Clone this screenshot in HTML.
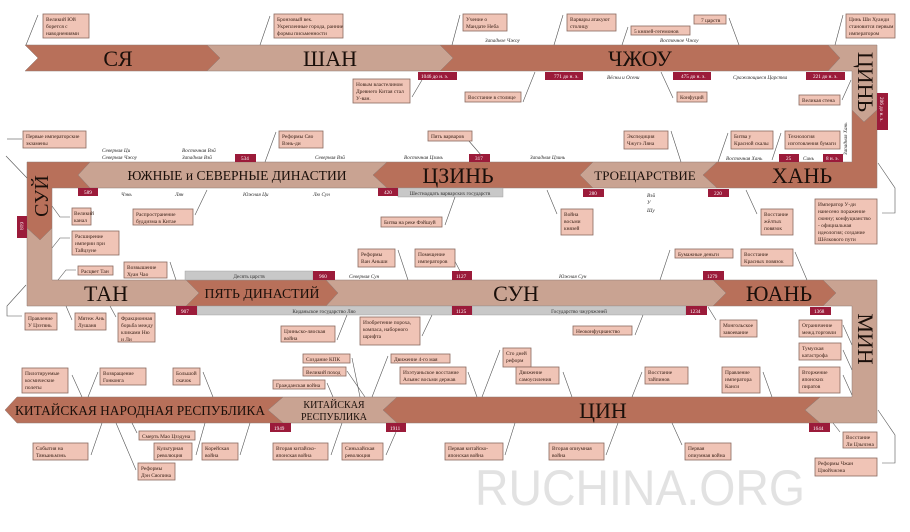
<!DOCTYPE html>
<html><head><meta charset="utf-8"><style>
html,body{margin:0;padding:0;background:#fff}
svg{display:block}
.d{fill:#b8705a;stroke:#8e7a74;stroke-width:.5}
.l{fill:#c9a392;stroke:#8e7a74;stroke-width:.5}
.t{font-family:"Liberation Serif",serif;fill:#1a0f0a}
.b{fill:#f0c4b6;stroke:#8a6a60;stroke-width:.8}
.e{font-family:"Liberation Serif",serif;font-size:5.4px;fill:#3a2218}
.i{font-family:"Liberation Serif",serif;font-size:5.2px;font-style:italic;fill:#2a2a2a}
.dt{fill:#9b1b3a}
.dw{font-family:"Liberation Serif",serif;font-size:5.2px;fill:#fff}
.g{fill:#c8c8c8;stroke:#999;stroke-width:.4}
.gt{font-family:"Liberation Serif",serif;font-size:5.2px;fill:#333}
line,polyline{stroke:#555;stroke-width:.6;fill:none}
</style></head><body>
<svg width="910" height="532" viewBox="0 0 910 532" xmlns="http://www.w3.org/2000/svg">
<text x="475" y="505" font-family="Liberation Sans,sans-serif" font-size="50" fill="#e2e2e2" textLength="330" lengthAdjust="spacingAndGlyphs">RUCHINA.ORG</text>

<polygon class="d" points="25,45 207,45 220,58 207,71 25,71 38,58"/>
<polygon class="l" points="207,45 440,45 453,58 440,71 207,71 220,58"/>
<polygon class="d" points="440,45 828,45 840,58 828,71 440,71 453,58"/>
<polygon class="l" points="828,45 877,45 877,110 864,122 852,110 852,71 828,71 840,58"/>
<polygon class="d" points="852,110 864,122 877,110 877,188 717,188 703,175 717,162 852,162"/>
<polygon class="l" points="717,162 703,175 717,188 593,188 580,175 593,162"/>
<polygon class="d" points="593,162 580,175 593,188 387,188 373,175 387,162"/>
<polygon class="l" points="387,162 373,175 387,188 90,188 78,175 90,162"/>
<polygon class="d" points="90,162 78,175 90,188 52,188 52,228 40,240 27,228 27,162"/>
<polygon class="l" points="27,228 40,240 52,228 52,280 186,280 199,293 186,306 27,306"/>
<polygon class="d" points="186,280 326,280 338,293 326,306 186,306 199,293"/>
<polygon class="l" points="326,280 713,280 726,293 713,306 326,306 338,293"/>
<polygon class="d" points="713,280 823,280 836,293 823,306 713,306 726,293"/>
<polygon class="l" points="823,280 877,280 877,423 820,423 805,410 820,397 852,397 852,306 823,306 836,293"/>
<polygon class="d" points="820,397 805,410 820,423 397,423 383,410 397,397"/>
<polygon class="l" points="397,397 383,410 397,423 283,423 268,410 283,397"/>
<polygon class="d" points="283,397 268,410 283,423 17,423 5,410 17,397"/>

<g class="t" text-anchor="middle">
<text x="118" y="66" font-size="22">СЯ</text>
<text x="330" y="66" font-size="22">ШАН</text>
<text x="640" y="66" font-size="22">ЧЖОУ</text>
<text transform="translate(858,82) rotate(90)" font-size="22">ЦИНЬ</text>
<text x="237" y="180" font-size="14" textLength="219" lengthAdjust="spacingAndGlyphs">ЮЖНЫЕ и СЕВЕРНЫЕ ДИНАСТИИ</text>
<text x="458" y="183" font-size="22">ЦЗИНЬ</text>
<text x="645" y="180" font-size="13">ТРОЕЦАРСТВИЕ</text>
<text x="802" y="183" font-size="22">ХАНЬ</text>
<text transform="translate(48,196) rotate(-90)" font-size="20">СУЙ</text>
<text x="106" y="301" font-size="22">ТАН</text>
<text x="262" y="298" font-size="14" textLength="115" lengthAdjust="spacingAndGlyphs">ПЯТЬ ДИНАСТИЙ</text>
<text x="516" y="301" font-size="22">СУН</text>
<text x="779" y="301" font-size="22">ЮАНЬ</text>
<text transform="translate(858,339) rotate(90)" font-size="22">МИН</text>
<text x="140" y="415" font-size="14" textLength="250" lengthAdjust="spacingAndGlyphs">КИТАЙСКАЯ НАРОДНАЯ РЕСПУБЛИКА</text>
<text x="334" y="408" font-size="10">КИТАЙСКАЯ</text>
<text x="334" y="420" font-size="10">РЕСПУБЛИКА</text>
<text x="603" y="418" font-size="22">ЦИН</text>
</g>

<rect class="g" x="185" y="271" width="128" height="9"/><text class="gt" x="249" y="278" text-anchor="middle">Десять царств</text>
<rect class="g" x="197" y="306" width="255" height="9"/><text class="gt" x="324" y="313" text-anchor="middle">Киданьское государство Ляо</text>
<rect class="g" x="472" y="306" width="214" height="9"/><text class="gt" x="579" y="313" text-anchor="middle">Государство чжурчжэней</text>
<rect class="g" x="398" y="188" width="105" height="9"/><text class="gt" x="450" y="195" text-anchor="middle">Шестнадцать варварских государств</text>

<g>
<rect class="dt" x="418" y="72" width="39" height="8"/><text class="dw" x="421" y="78">1046 до н. э.</text>
<rect class="dt" x="545" y="72" width="38" height="8"/><text class="dw" x="554" y="78">771 до н. э.</text>
<rect class="dt" x="673" y="72" width="38" height="8"/><text class="dw" x="681" y="78">475 до н. э.</text>
<rect class="dt" x="806" y="72" width="39" height="8"/><text class="dw" x="813" y="78">221 до н. э.</text>
<rect class="dt" x="877" y="93" width="11" height="37"/><text class="dw" transform="translate(880,97) rotate(90)">206 до н. э.</text>
<rect class="dt" x="235" y="154" width="21" height="8"/><text class="dw" x="241" y="160">534</text>
<rect class="dt" x="469" y="154" width="21" height="8"/><text class="dw" x="475" y="160">317</text>
<rect class="dt" x="779" y="154" width="20" height="8"/><text class="dw" x="786" y="160">25</text>
<rect class="dt" x="823" y="154" width="20" height="8"/><text class="dw" x="826" y="160">8 н. э.</text>
<rect class="dt" x="78" y="188" width="20" height="8"/><text class="dw" x="84" y="194">589</text>
<rect class="dt" x="378" y="188" width="20" height="8"/><text class="dw" x="384" y="194">420</text>
<rect class="dt" x="583" y="189" width="21" height="8"/><text class="dw" x="589" y="195">280</text>
<rect class="dt" x="708" y="189" width="21" height="8"/><text class="dw" x="714" y="195">220</text>
<rect class="dt" x="17" y="216" width="10" height="22"/><text class="dw" transform="translate(20,222) rotate(90)">618</text>
<rect class="dt" x="313" y="271" width="22" height="9"/><text class="dw" x="319" y="278">960</text>
<rect class="dt" x="452" y="271" width="20" height="9"/><text class="dw" x="456" y="278">1127</text>
<rect class="dt" x="703" y="271" width="21" height="9"/><text class="dw" x="707" y="278">1279</text>
<rect class="dt" x="176" y="306" width="21" height="9"/><text class="dw" x="181" y="313">907</text>
<rect class="dt" x="452" y="306" width="20" height="9"/><text class="dw" x="456" y="313">1125</text>
<rect class="dt" x="686" y="306" width="21" height="9"/><text class="dw" x="690" y="313">1234</text>
<rect class="dt" x="810" y="307" width="21" height="8"/><text class="dw" x="814" y="313">1368</text>
<rect class="dt" x="270" y="423" width="21" height="9"/><text class="dw" x="274" y="430">1949</text>
<rect class="dt" x="386" y="423" width="20" height="9"/><text class="dw" x="390" y="430">1911</text>
<rect class="dt" x="809" y="423" width="21" height="9"/><text class="dw" x="813" y="430">1644</text>
</g>

<g class="i">
<text x="485" y="42">Западное Чжоу</text>
<text x="660" y="42">Восточное Чжоу</text>
<text x="607" y="79">Вёсны и Осени</text>
<text x="733" y="79">Сражающиеся Царства</text>
<text transform="translate(847,155) rotate(-90)">Западная Хань</text>
<text x="102" y="152">Северная Ци</text><text x="102" y="159">Северная Чжоу</text>
<text x="182" y="152">Восточная Вэй</text><text x="182" y="159">Западная Вэй</text>
<text x="315" y="159">Северная Вэй</text>
<text x="404" y="159">Восточная Цзинь</text>
<text x="530" y="159">Западная Цзинь</text>
<text x="726" y="160">Восточная Хань</text>
<text x="803" y="160">Синь</text>
<text x="121" y="196">Чэнь</text>
<text x="175" y="196">Лян</text>
<text x="243" y="196">Южная Ци</text>
<text x="313" y="196">Лю Сун</text>
<text x="647" y="197">Вэй</text><text x="647" y="204">У</text><text x="647" y="212">Шу</text>
<text x="349" y="278">Северная Сун</text>
<text x="559" y="278">Южная Сун</text>
</g>

<g>
<line x1="26" y1="45" x2="38" y2="15"/>
<line x1="260" y1="45" x2="270" y2="16"/>
<line x1="452" y1="45" x2="460" y2="15"/>
<line x1="554" y1="45" x2="563" y2="15"/>
<line x1="622" y1="45" x2="628" y2="27"/>
<line x1="739" y1="45" x2="729" y2="18"/>
<line x1="835" y1="45" x2="843" y2="15"/>
<line x1="412" y1="97" x2="422" y2="80"/>
<line x1="523" y1="102" x2="535" y2="72"/>
<line x1="673" y1="98" x2="661" y2="72"/>
<line x1="842" y1="100" x2="851" y2="80"/>
<polyline points="22,139 7,139"/><line x1="6" y1="156" x2="27" y2="178"/>
<line x1="265" y1="162" x2="276" y2="132"/>
<line x1="462" y1="133" x2="481" y2="155"/>
<line x1="671" y1="131" x2="681" y2="162"/>
<line x1="728" y1="133" x2="718" y2="162"/>
<line x1="781" y1="133" x2="772" y2="160"/>
<polyline points="878,163 895,188 895,213 882,213"/>
<polyline points="52,206 60,217 70,217"/>
<line x1="195" y1="215" x2="207" y2="190"/>
<line x1="445" y1="225" x2="455" y2="197"/>
<line x1="557" y1="214" x2="547" y2="190"/>
<line x1="757" y1="214" x2="746" y2="190"/>
<polyline points="52,248 60,238 70,238"/>
<polyline points="58,280 66,270 76,270"/>
<line x1="170" y1="262" x2="176" y2="280"/>
<line x1="398" y1="250" x2="408" y2="280"/>
<line x1="450" y1="252" x2="460" y2="271"/>
<line x1="670" y1="250" x2="660" y2="280"/>
<line x1="795" y1="252" x2="807" y2="280"/>
<polyline points="26,285 7,306 7,316 22,316"/>
<line x1="66" y1="306" x2="72" y2="320"/>
<line x1="110" y1="306" x2="116" y2="317"/>
<line x1="337" y1="340" x2="347" y2="315"/>
<line x1="422" y1="336" x2="432" y2="315"/>
<line x1="635" y1="335" x2="643" y2="315"/>
<line x1="716" y1="320" x2="708" y2="307"/>
<line x1="843" y1="325" x2="852" y2="345"/>
<line x1="843" y1="350" x2="852" y2="370"/>
<line x1="843" y1="375" x2="852" y2="395"/>
<line x1="72" y1="375" x2="82" y2="397"/>
<line x1="98" y1="372" x2="88" y2="397"/>
<line x1="203" y1="372" x2="213" y2="397"/>
<line x1="352" y1="358" x2="360" y2="397"/>
<line x1="347" y1="371" x2="365" y2="397"/>
<line x1="327" y1="383" x2="333" y2="397"/>
<line x1="388" y1="356" x2="372" y2="397"/>
<line x1="468" y1="372" x2="477" y2="397"/>
<line x1="500" y1="350" x2="482" y2="397"/>
<line x1="563" y1="372" x2="572" y2="397"/>
<line x1="642" y1="372" x2="632" y2="397"/>
<line x1="763" y1="372" x2="772" y2="397"/>
<line x1="91" y1="455" x2="102" y2="423"/>
<line x1="137" y1="433" x2="132" y2="423"/>
<line x1="136" y1="470" x2="116" y2="423"/>
<line x1="196" y1="455" x2="205" y2="423"/>
<line x1="240" y1="455" x2="250" y2="423"/>
<line x1="331" y1="455" x2="342" y2="423"/>
<line x1="386" y1="455" x2="396" y2="432"/>
<line x1="505" y1="455" x2="515" y2="423"/>
<line x1="606" y1="455" x2="618" y2="423"/>
<line x1="682" y1="445" x2="672" y2="423"/>
<line x1="840" y1="432" x2="833" y2="423"/>
<polyline points="882,463 895,463 895,435 878,410"/>
</g>

<g>
<rect class="b" x="43" y="14" width="46" height="24"/><text class="e"><tspan x="46" y="21">Великий Юй</tspan><tspan x="46" y="28">борется с</tspan><tspan x="46" y="35">наводнениями</tspan></text>
<rect class="b" x="274" y="14" width="69" height="24"/><text class="e"><tspan x="277" y="21">Бронзовый век.</tspan><tspan x="277" y="28">Укрепленные города, ранние</tspan><tspan x="277" y="35">формы письменности</tspan></text>
<rect class="b" x="463" y="14" width="44" height="17"/><text class="e"><tspan x="466" y="21">Учение о</tspan><tspan x="466" y="28">Мандате Неба</tspan></text>
<rect class="b" x="567" y="14" width="49" height="17"/><text class="e"><tspan x="570" y="21">Варвары атакуют</tspan><tspan x="570" y="28">столицу</tspan></text>
<rect class="b" x="631" y="26" width="59" height="9"/><text class="e" x="634" y="33">5 князей-гегемонов</text>
<rect class="b" x="694" y="15" width="32" height="9"/><text class="e" x="701" y="22">7 царств</text>
<rect class="b" x="846" y="14" width="49" height="24"/><text class="e"><tspan x="849" y="21">Цинь Ши Хуанди</tspan><tspan x="849" y="28">становится первым</tspan><tspan x="849" y="35">императором</tspan></text>
<rect class="b" x="353" y="79" width="57" height="24"/><text class="e"><tspan x="356" y="86">Новым властелином</tspan><tspan x="356" y="93">Древнего Китая стал</tspan><tspan x="356" y="100">У-ван.</tspan></text>
<rect class="b" x="465" y="92" width="56" height="10"/><text class="e" x="468" y="99">Восстание в столице</text>
<rect class="b" x="677" y="92" width="30" height="10"/><text class="e" x="680" y="99">Конфуций</text>
<rect class="b" x="799" y="95" width="41" height="10"/><text class="e" x="802" y="102">Великая стена</text>
<rect class="b" x="23" y="131" width="63" height="17"/><text class="e"><tspan x="26" y="138">Первые императорские</tspan><tspan x="26" y="145">экзамены</tspan></text>
<rect class="b" x="279" y="131" width="44" height="17"/><text class="e"><tspan x="282" y="138">Реформы  Сяо</tspan><tspan x="282" y="145">Вэнь-ди</tspan></text>
<rect class="b" x="428" y="131" width="44" height="10"/><text class="e" x="431" y="138">Пять варваров</text>
<rect class="b" x="624" y="131" width="44" height="18"/><text class="e"><tspan x="627" y="138">Экспедиция</tspan><tspan x="627" y="145">Чжугэ Ляна</tspan></text>
<rect class="b" x="731" y="131" width="42" height="18"/><text class="e"><tspan x="734" y="138">Битва у</tspan><tspan x="734" y="145">Красной скалы</tspan></text>
<rect class="b" x="785" y="131" width="55" height="18"/><text class="e"><tspan x="788" y="138">Технология</tspan><tspan x="788" y="145">изготовления бумаги</tspan></text>
<rect class="b" x="72" y="208" width="19" height="17"/><text class="e"><tspan x="74" y="215">Великий</tspan><tspan x="74" y="222">канал</tspan></text>
<rect class="b" x="133" y="209" width="60" height="16"/><text class="e"><tspan x="136" y="216">Распространение</tspan><tspan x="136" y="223">буддизма в Китае</tspan></text>
<rect class="b" x="381" y="217" width="61" height="10"/><text class="e" x="384" y="224">Битва на реке Фэйшуй</text>
<rect class="b" x="561" y="209" width="32" height="26"/><text class="e"><tspan x="564" y="216">Война</tspan><tspan x="564" y="223">восьми</tspan><tspan x="564" y="230">князей</tspan></text>
<rect class="b" x="761" y="209" width="32" height="26"/><text class="e"><tspan x="764" y="216">Восстание</tspan><tspan x="764" y="223">жёлтых</tspan><tspan x="764" y="230">повязок</tspan></text>
<rect class="b" x="815" y="199" width="62" height="45"/><text class="e"><tspan x="818" y="206">Император У-ди</tspan><tspan x="818" y="213">нанесено поражение</tspan><tspan x="818" y="220">сюнну; конфуцианство</tspan><tspan x="818" y="227">- официальная</tspan><tspan x="818" y="234">идеология; создание</tspan><tspan x="818" y="241">Шёлкового пути</tspan></text>
<rect class="b" x="72" y="231" width="47" height="24"/><text class="e"><tspan x="75" y="238">Расширение</tspan><tspan x="75" y="245">империи при</tspan><tspan x="75" y="252">Тайцзуне</tspan></text>
<rect class="b" x="78" y="266" width="35" height="9"/><text class="e" x="81" y="273">Расцвет Тан</text>
<rect class="b" x="124" y="262" width="43" height="16"/><text class="e"><tspan x="127" y="269">Возвышение</tspan><tspan x="127" y="276">Хуан Чао</tspan></text>
<rect class="b" x="358" y="249" width="37" height="18"/><text class="e"><tspan x="361" y="256">Реформы</tspan><tspan x="361" y="263">Ван Аньши</tspan></text>
<rect class="b" x="415" y="249" width="40" height="18"/><text class="e"><tspan x="418" y="256">Помещение</tspan><tspan x="418" y="263">императоров</tspan></text>
<rect class="b" x="675" y="249" width="58" height="9"/><text class="e" x="678" y="256">Бумажные деньги</text>
<rect class="b" x="741" y="249" width="52" height="17"/><text class="e"><tspan x="744" y="256">Восстание</tspan><tspan x="744" y="263">Красных повязок</tspan></text>
<rect class="b" x="25" y="313" width="32" height="17"/><text class="e"><tspan x="28" y="320">Правление</tspan><tspan x="28" y="327">У Цзэтянь</tspan></text>
<rect class="b" x="75" y="313" width="31" height="17"/><text class="e"><tspan x="78" y="320">Мятеж Ань</tspan><tspan x="78" y="327">Лушаня</tspan></text>
<rect class="b" x="118" y="313" width="37" height="29"/><text class="e"><tspan x="121" y="320">Фракционная</tspan><tspan x="121" y="327">борьба между</tspan><tspan x="121" y="334">кликами Ню</tspan><tspan x="121" y="341">и Ли</tspan></text>
<rect class="b" x="281" y="326" width="54" height="16"/><text class="e"><tspan x="284" y="333">Цзиньско-ляоская</tspan><tspan x="284" y="340">война</tspan></text>
<rect class="b" x="360" y="317" width="60" height="28"/><text class="e"><tspan x="363" y="324">Изобретение пороха,</tspan><tspan x="363" y="331">компаса, наборного</tspan><tspan x="363" y="338">шрифта</tspan></text>
<rect class="b" x="573" y="326" width="59" height="9"/><text class="e" x="576" y="333">Неоконфуцианство</text>
<rect class="b" x="720" y="320" width="37" height="17"/><text class="e"><tspan x="723" y="327">Монгольское</tspan><tspan x="723" y="334">завоевание</tspan></text>
<rect class="b" x="799" y="320" width="43" height="17"/><text class="e"><tspan x="802" y="327">Ограничение</tspan><tspan x="802" y="334">межд.торговли</tspan></text>
<rect class="b" x="799" y="343" width="42" height="17"/><text class="e"><tspan x="802" y="350">Тумуская</tspan><tspan x="802" y="357">катастрофа</tspan></text>
<rect class="b" x="799" y="367" width="41" height="26"/><text class="e"><tspan x="802" y="374">Вторжение</tspan><tspan x="802" y="381">японских</tspan><tspan x="802" y="388">пиратов</tspan></text>
<rect class="b" x="22" y="368" width="46" height="25"/><text class="e"><tspan x="25" y="375">Пилотируемые</tspan><tspan x="25" y="382">космические</tspan><tspan x="25" y="389">полеты</tspan></text>
<rect class="b" x="100" y="368" width="46" height="17"/><text class="e"><tspan x="103" y="375">Возвращение</tspan><tspan x="103" y="382">Гонконга</tspan></text>
<rect class="b" x="173" y="368" width="27" height="17"/><text class="e"><tspan x="176" y="375">Большой</tspan><tspan x="176" y="382">скачок</tspan></text>
<rect class="b" x="303" y="354" width="47" height="9"/><text class="e" x="306" y="361">Создание КПК</text>
<rect class="b" x="303" y="367" width="43" height="9"/><text class="e" x="306" y="374">Великий поход</text>
<rect class="b" x="273" y="380" width="52" height="9"/><text class="e" x="276" y="387">Гражданская война</text>
<rect class="b" x="391" y="354" width="59" height="9"/><text class="e" x="394" y="361">Движение 4-го мая</text>
<rect class="b" x="400" y="367" width="66" height="17"/><text class="e"><tspan x="403" y="374">Ихэтуаньское восстание</tspan><tspan x="403" y="381">Альянс восьми держав</tspan></text>
<rect class="b" x="503" y="348" width="28" height="19"/><text class="e"><tspan x="506" y="355">Сто дней</tspan><tspan x="506" y="362">реформ</tspan></text>
<rect class="b" x="516" y="367" width="43" height="17"/><text class="e"><tspan x="519" y="374">Движение</tspan><tspan x="519" y="381">самоусиления</tspan></text>
<rect class="b" x="645" y="367" width="43" height="17"/><text class="e"><tspan x="648" y="374">Восстание</tspan><tspan x="648" y="381">тайпинов</tspan></text>
<rect class="b" x="722" y="367" width="38" height="26"/><text class="e"><tspan x="725" y="374">Правление</tspan><tspan x="725" y="381">императора</tspan><tspan x="725" y="388">Канси</tspan></text>
<rect class="b" x="33" y="443" width="55" height="17"/><text class="e"><tspan x="36" y="450">События на</tspan><tspan x="36" y="457">Тяньаньмэнь</tspan></text>
<rect class="b" x="139" y="431" width="56" height="9"/><text class="e" x="142" y="438">Смерть Мао Цзэдуна</text>
<rect class="b" x="154" y="443" width="38" height="17"/><text class="e"><tspan x="157" y="450">Культурная</tspan><tspan x="157" y="457">революция</tspan></text>
<rect class="b" x="202" y="443" width="36" height="17"/><text class="e"><tspan x="205" y="450">Корейская</tspan><tspan x="205" y="457">война</tspan></text>
<rect class="b" x="138" y="463" width="37" height="17"/><text class="e"><tspan x="141" y="470">Реформы</tspan><tspan x="141" y="477">Дэн Сяопина</tspan></text>
<rect class="b" x="273" y="443" width="55" height="17"/><text class="e"><tspan x="276" y="450">Вторая китайско-</tspan><tspan x="276" y="457">японская война</tspan></text>
<rect class="b" x="342" y="443" width="41" height="17"/><text class="e"><tspan x="345" y="450">Синьхайская</tspan><tspan x="345" y="457">революция</tspan></text>
<rect class="b" x="445" y="443" width="58" height="17"/><text class="e"><tspan x="448" y="450">Первая китайско-</tspan><tspan x="448" y="457">японская война</tspan></text>
<rect class="b" x="549" y="443" width="55" height="17"/><text class="e"><tspan x="552" y="450">Вторая опиумная</tspan><tspan x="552" y="457">война</tspan></text>
<rect class="b" x="685" y="443" width="46" height="17"/><text class="e"><tspan x="688" y="450">Первая</tspan><tspan x="688" y="457">опиумная война</tspan></text>
<rect class="b" x="843" y="432" width="34" height="16"/><text class="e"><tspan x="846" y="439">Восстание</tspan><tspan x="846" y="446">Ли Цзычэна</tspan></text>
<rect class="b" x="815" y="458" width="62" height="18"/><text class="e"><tspan x="818" y="465">Реформы Чжан</tspan><tspan x="818" y="472">Цзюйчжэна</tspan></text>
</g>
</svg>
</body></html>
